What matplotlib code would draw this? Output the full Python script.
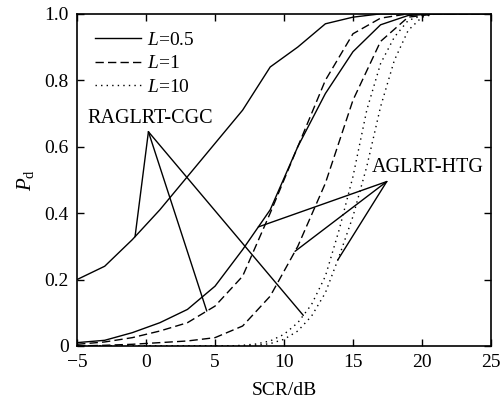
import matplotlib.pyplot as plt
import numpy as np

plt.rcParams['font.family'] = ['Liberation Serif', 'DejaVu Serif']
plt.rcParams['mathtext.fontset'] = 'custom'
plt.rcParams['mathtext.rm'] = 'Liberation Serif'
plt.rcParams['mathtext.it'] = 'Liberation Serif:italic'

# SCR grid (dB)
x2 = np.arange(-5, 26, 2)
x1 = np.arange(-5, 26, 1)

# RAGLRT-CGC
cgc_05 = [0.20, 0.24, 0.32, 0.41, 0.51, 0.61, 0.71, 0.84, 0.90, 0.97, 0.99, 1.0, 1.0, 1.0, 1.0, 1.0]
cgc_1 = [0.005, 0.012, 0.025, 0.045, 0.07, 0.12, 0.21, 0.40, 0.60, 0.80, 0.94, 0.987, 1.0, 1.0, 1.0, 1.0]
cgc_10 = [0, 0, 0, 0, 0, 0, 0, 0, 0, 0, 0, 0, 0.002, 0.006, 0.015, 0.035, 0.07, 0.125, 0.21, 0.35,
          0.51, 0.71, 0.85, 0.93, 0.98, 0.995, 1.0, 1.0, 1.0, 1.0, 1.0]

# AGLRT-HTG
htg_05 = [0.01, 0.017, 0.04, 0.07, 0.11, 0.18, 0.29, 0.41, 0.60, 0.76, 0.886, 0.967, 0.995, 1.0, 1.0, 1.0]
htg_1 = [0.0, 0.002, 0.005, 0.01, 0.015, 0.025, 0.06, 0.15, 0.30, 0.49, 0.74, 0.917, 0.99, 1.0, 1.0, 1.0]
htg_10 = [0, 0, 0, 0, 0, 0, 0, 0, 0, 0, 0, 0, 0, 0.002, 0.007, 0.02, 0.045, 0.09, 0.16, 0.27,
          0.39, 0.54, 0.72, 0.86, 0.95, 0.99, 1.0, 1.0, 1.0, 1.0, 1.0]

fig = plt.figure(figsize=(5.04, 4.07), dpi=100)
ax = fig.add_axes([0.153, 0.150, 0.821, 0.816])

lw = 1.0
ax.plot(x2, cgc_05, 'k-', lw=lw, label='$L$=0.5')
ax.plot(x2, cgc_1, 'k', lw=lw, dashes=(6, 3), label='$L$=1')
ax.plot(x1, cgc_10, 'k', lw=lw, dashes=(1, 3), label='$L$=10')
ax.plot(x2, htg_05, 'k-', lw=lw)
ax.plot(x2, htg_1, 'k', lw=lw, dashes=(6, 3))
ax.plot(x1, htg_10, 'k', lw=lw, dashes=(1, 3))

# annotation leaders
cgc_pt = (0.17, 0.645)
for xs, ys, xt in [(x2, cgc_05, -0.8), (x2, cgc_1, 4.4), (x1, cgc_10, 11.4)]:
    ax.annotate('', xy=(xt, np.interp(xt, xs, ys)), xytext=cgc_pt,
                arrowprops=dict(arrowstyle='-', color='k', lw=1.0, shrinkA=0, shrinkB=0))
htg_pt = (17.45, 0.495)
for xs, ys, xt in [(x2, htg_05, 8.14), (x2, htg_1, 10.8), (x1, htg_10, 13.9)]:
    ax.annotate('', xy=(xt, np.interp(xt, xs, ys)), xytext=htg_pt,
                arrowprops=dict(arrowstyle='-', color='k', lw=1.0, shrinkA=0, shrinkB=0))
ax.text(0.3, 0.655, 'RAGLRT-CGC', ha='center', va='bottom', fontsize=14.5)
ax.text(20.4, 0.51, 'AGLRT-HTG', ha='center', va='bottom', fontsize=14.5)

ax.set_xlim(-5, 25)
ax.set_ylim(0, 1)
ax.set_xticks([-5, 0, 5, 10, 15, 20, 25])
ax.set_xticklabels(['\u22125', '0', '5', '10', '15', '20', '25'])
ax.set_yticks([0, 0.2, 0.4, 0.6, 0.8, 1.0])
ax.set_yticklabels(['0', '0.2', '0.4', '0.6', '0.8', '1.0'])
ax.tick_params(direction='in', top=True, right=True, labelsize=14, length=5, width=1, pad=6)
for s in ax.spines.values():
    s.set_linewidth(1.2)

ax.set_xlabel('SCR/dB', fontsize=14, labelpad=8)
ax.set_ylabel('$P_\\mathrm{d}$', fontsize=15, labelpad=6)

ax.legend(loc='upper left', frameon=False, fontsize=14, handlelength=2.4,
          handletextpad=0.3, labelspacing=0.3, borderaxespad=0.5, borderpad=0.4)

fig.savefig('out.png', dpi=100)
